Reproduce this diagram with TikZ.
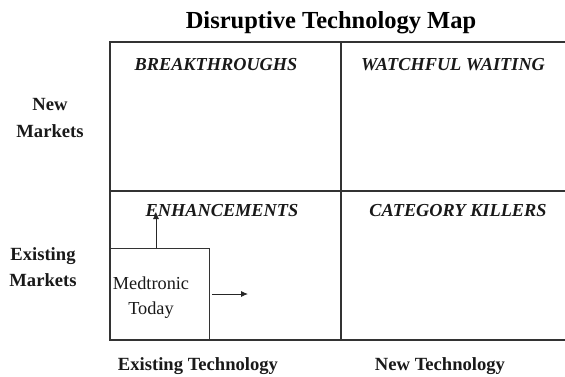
\documentclass[tikz,border=0pt]{standalone}
\usepackage{fontspec}
\setmainfont{Liberation Serif}
\usetikzlibrary{arrows.meta}
\begin{document}
\begin{tikzpicture}[x=1pt,y=-1pt,
  grid/.style={draw=black!80,line width=1.1pt},
  quad/.style={font=\bfseries\itshape\fontsize{18.3}{20}\selectfont,text=black!90},
  axis/.style={font=\bfseries\fontsize{18.6}{26.5}\selectfont,align=center,text=black!90},
  move/.style={draw=black!85,line width=0.9pt,-{Latex[length=7pt,width=6pt]}}]
  \useasboundingbox (0,0) rectangle (565,376);
  % title
  \node[font=\bfseries\fontsize{24.5}{26}\selectfont] (title) at (331,23) {Disruptive Technology Map};
  % quadrant grid (open to the right)
  \draw[grid] (565,42) -- (110,42) -- (110,340) -- (565,340);
  \draw[grid] (110,191) -- (565,191);
  \draw[grid] (341,42) -- (341,340);
  % quadrant names
  \node[quad] (bt) at (216,65) {BREAKTHROUGHS};
  \node[quad] (ww) at (453,65) {WATCHFUL WAITING};
  \node[quad] (en) at (222,211) {ENHANCEMENTS};
  \node[quad] (ck) at (458,211) {CATEGORY KILLERS};
  % axis labels
  \node[axis] (nm) at (50,118) {New\\Markets};
  \node[axis] (em) at (43,267) {Existing\\Markets};
  \node[axis] (et) at (198,366) {Existing Technology};
  \node[axis] (nt) at (440,366) {New Technology};
  % current position box
  \node[draw=black!80,line width=1pt,minimum width=99pt,minimum height=92pt,
        anchor=north west,inner sep=0pt] (med) at (110,248) {};
  \node[font=\fontsize{18.3}{25}\selectfont,align=center,text=black!90] (medt) at (151,298) {Medtronic\\Today};
  \coordinate (upend) at (156,212);
  \coordinate (rtstart) at (212,294);
  \coordinate (rtend) at (248,294);
  \draw[move] (med.north west -| upend) -- (upend);
  \draw[move] (rtstart) -- (rtend);
\end{tikzpicture}
\end{document}
